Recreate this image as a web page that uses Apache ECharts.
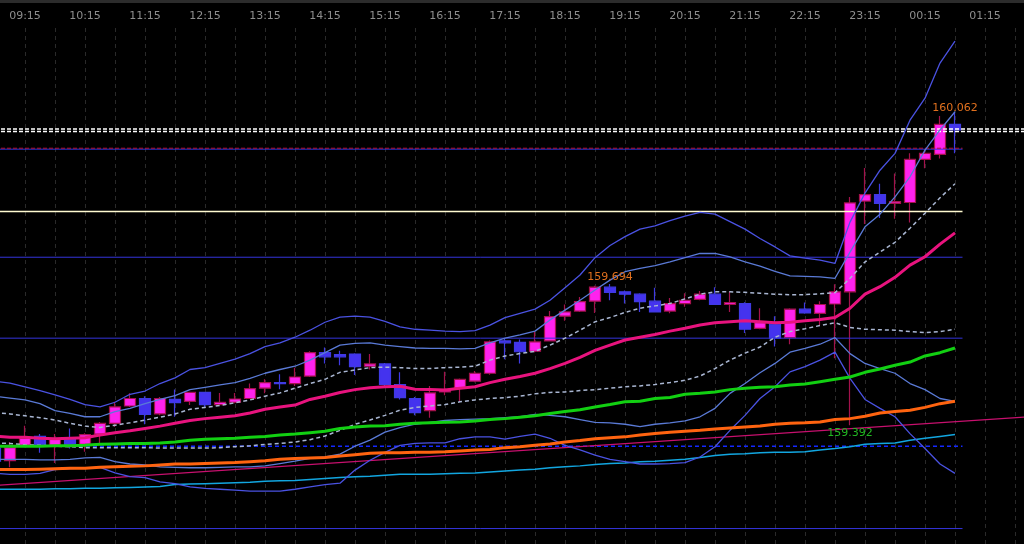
<!DOCTYPE html>
<html>
<head>
<meta charset="utf-8">
<script src="https://cdn.jsdelivr.net/npm/echarts@6/dist/echarts.min.js"></script>
<style>
  html, body { margin: 0; padding: 0; background: #000; }
  #main { width: 1024px; height: 544px; }
</style>
</head>
<body>
<div id="main"></div>
<script>
// 15 minute slots, 08:45 -> 02:00
var times = [
  '08:45',
  '09:00','09:15','09:30','09:45','10:00','10:15','10:30','10:45',
  '11:00','11:15','11:30','11:45','12:00','12:15','12:30','12:45',
  '13:00','13:15','13:30','13:45','14:00','14:15','14:30','14:45',
  '15:00','15:15','15:30','15:45','16:00','16:15','16:30','16:45',
  '17:00','17:15','17:30','17:45','18:00','18:15','18:30','18:45',
  '19:00','19:15','19:30','19:45','20:00','20:15','20:30','20:45',
  '21:00','21:15','21:30','21:45','22:00','22:15','22:30','22:45',
  '23:00','23:15','23:30','23:45','00:00','00:15','00:30','00:45',
  '01:00','01:15','01:30','01:45','02:00'
];

// open, close, low, high
var candles = [
  [159.343,159.315,159.311,159.347],[159.316,159.344,159.302,159.356],[159.349,159.364,159.345,159.391],
  [159.368,159.349,159.333,159.373],[159.349,159.362,159.311,159.373],[159.362,159.349,159.342,159.385],
  [159.351,159.372,159.335,159.375],[159.373,159.396,159.354,159.399],[159.396,159.431,159.388,159.442],
  [159.433,159.449,159.431,159.460],[159.449,159.415,159.394,159.454],[159.416,159.449,159.413,159.452],
  [159.447,159.440,159.410,159.468],[159.443,159.462,159.435,159.463],[159.462,159.436,159.430,159.463],
  [159.436,159.441,159.435,159.461],[159.441,159.448,159.439,159.461],[159.449,159.470,159.448,159.481],
  [159.471,159.483,159.460,159.490],[159.483,159.481,159.469,159.501],[159.481,159.495,159.476,159.515],
  [159.497,159.547,159.495,159.550],[159.547,159.538,159.524,159.558],[159.543,159.538,159.520,159.551],
  [159.544,159.517,159.499,159.546],[159.518,159.523,159.511,159.544],[159.523,159.479,159.476,159.525],
  [159.479,159.451,159.447,159.505],[159.449,159.419,159.413,159.452],[159.423,159.461,159.408,159.476],
  [159.463,159.468,159.456,159.506],[159.471,159.490,159.442,159.492],[159.486,159.503,159.484,159.508],
  [159.503,159.570,159.500,159.573],[159.572,159.568,159.533,159.578],[159.569,159.549,159.524,159.575],
  [159.550,159.570,159.548,159.592],[159.572,159.624,159.571,159.636],[159.625,159.634,159.615,159.650],
  [159.636,159.656,159.634,159.666],[159.657,159.687,159.632,159.690],[159.687,159.676,159.659,159.694],
  [159.677,159.672,159.652,159.680],[159.672,159.656,159.634,159.674],[159.657,159.634,159.633,159.686],
  [159.636,159.652,159.631,159.664],[159.652,159.659,159.645,159.674],[159.661,159.672,159.659,159.679],
  [159.672,159.650,159.649,159.687],[159.650,159.654,159.634,159.677],[159.652,159.597,159.589,159.655],
  [159.599,159.611,159.597,159.642],[159.608,159.578,159.560,159.625],[159.579,159.640,159.565,159.642],
  [159.640,159.632,159.630,159.654],[159.631,159.650,159.606,159.657],[159.651,159.677,159.535,159.693],
  [159.677,159.867,159.392,159.880],[159.871,159.885,159.822,159.942],[159.885,159.866,159.835,159.908],
  [159.866,159.870,159.833,159.930],[159.868,159.960,159.825,159.973],[159.960,159.973,159.941,159.982],
  [159.971,160.035,159.962,160.053],[160.035,160.023,159.973,160.062]
];

// moving averages
var maPink = [
  159.369,159.366,159.366,159.364,159.363,159.364,159.365,159.371,159.376,159.380,
  159.385,159.390,159.396,159.402,159.406,159.409,159.412,159.418,159.426,159.431,
  159.435,159.447,159.454,159.462,159.468,159.472,159.474,159.475,159.469,159.468,
  159.467,159.471,159.474,159.483,159.490,159.496,159.503,159.513,159.524,159.537,
  159.552,159.563,159.574,159.580,159.586,159.593,159.599,159.606,159.611,159.613,
  159.615,159.613,159.611,159.612,159.615,159.618,159.622,159.642,159.672,159.688,
  159.708,159.734,159.752,159.779,159.803
];
var maGreen = [
  159.347,159.347,159.347,159.347,159.348,159.348,159.349,159.351,159.352,159.353,
  159.353,159.354,159.356,159.360,159.362,159.363,159.364,159.366,159.368,159.371,
  159.373,159.376,159.379,159.385,159.388,159.390,159.391,159.394,159.396,159.397,
  159.398,159.399,159.401,159.404,159.406,159.409,159.412,159.417,159.421,159.425,
  159.431,159.436,159.442,159.443,159.449,159.451,159.458,159.460,159.463,159.468,
  159.471,159.473,159.474,159.478,159.480,159.485,159.490,159.495,159.505,159.512,
  159.520,159.527,159.540,159.547,159.557
];
var maOrange = [
  159.297,159.297,159.297,159.298,159.299,159.300,159.300,159.302,159.303,159.304,
  159.305,159.307,159.309,159.309,159.310,159.311,159.312,159.314,159.316,159.319,
  159.321,159.322,159.323,159.326,159.329,159.332,159.333,159.333,159.334,159.334,
  159.335,159.337,159.339,159.340,159.344,159.346,159.349,159.352,159.356,159.359,
  159.363,159.365,159.367,159.371,159.374,159.377,159.379,159.381,159.384,159.386,
  159.388,159.390,159.394,159.396,159.397,159.399,159.404,159.406,159.411,159.418,
  159.421,159.424,159.430,159.438,159.443
];
var maCyan = [
  159.255,159.255,159.255,159.255,159.256,159.256,159.257,159.257,159.258,159.259,
  159.260,159.261,159.265,159.266,159.267,159.268,159.269,159.270,159.272,159.273,
  159.274,159.276,159.278,159.280,159.282,159.283,159.285,159.287,159.287,159.287,
  159.288,159.289,159.290,159.292,159.294,159.296,159.298,159.301,159.303,159.305,
  159.308,159.310,159.311,159.314,159.315,159.317,159.319,159.323,159.327,159.330,
  159.331,159.333,159.334,159.334,159.335,159.339,159.342,159.346,159.351,159.353,
  159.354,159.360,159.364,159.368,159.372
];

// bands: inner (dark blue) and outer (light blue), two dashed middles
var upperA = [
  159.486,159.482,159.474,159.466,159.457,159.447,159.436,159.431,159.441,159.458,
  159.465,159.481,159.493,159.511,159.515,159.524,159.533,159.545,159.560,159.568,
  159.580,159.595,159.612,159.623,159.625,159.623,159.614,159.602,159.597,159.595,
  159.593,159.592,159.594,159.606,159.622,159.631,159.640,159.659,159.686,159.713,
  159.750,159.776,159.795,159.811,159.818,159.829,159.839,159.847,159.843,159.827,
  159.811,159.791,159.773,159.754,159.749,159.745,159.738,159.826,159.888,159.937,
  159.973,160.044,160.091,160.166,160.213
];
var lowerA = [
  159.289,159.287,159.287,159.289,159.297,159.299,159.300,159.302,159.290,159.282,
  159.280,159.271,159.267,159.260,159.257,159.255,159.253,159.251,159.251,159.251,
  159.255,159.260,159.265,159.268,159.296,159.317,159.334,159.349,159.353,159.354,
  159.354,159.363,159.367,159.367,159.362,159.368,159.373,159.364,159.349,159.339,
  159.328,159.319,159.314,159.309,159.309,159.310,159.312,159.324,159.346,159.381,
  159.413,159.449,159.474,159.506,159.517,159.531,159.548,159.492,159.447,159.428,
  159.410,159.374,159.342,159.309,159.289
];
var upperB = [
  159.454,159.450,159.446,159.438,159.423,159.417,159.410,159.410,159.421,159.428,
  159.438,159.447,159.455,159.468,159.473,159.478,159.483,159.492,159.503,159.511,
  159.518,159.531,159.547,159.563,159.567,159.568,159.563,159.560,159.557,159.556,
  159.556,159.555,159.556,159.568,159.578,159.585,159.593,159.617,159.638,159.659,
  159.681,159.702,159.720,159.727,159.733,159.741,159.750,159.759,159.759,159.752,
  159.741,159.732,159.721,159.711,159.710,159.709,159.706,159.762,159.816,159.843,
  159.880,159.923,159.980,160.023,160.062
];
var lowerB = [
  159.319,159.319,159.319,159.318,159.318,159.319,159.322,159.323,159.314,159.309,
  159.307,159.303,159.302,159.301,159.301,159.302,159.303,159.303,159.305,159.310,
  159.315,159.321,159.324,159.330,159.347,159.360,159.377,159.387,159.394,159.398,
  159.402,159.404,159.405,159.406,159.408,159.410,159.415,159.413,159.410,159.404,
  159.398,159.397,159.394,159.389,159.394,159.397,159.401,159.410,159.428,159.460,
  159.481,159.504,159.524,159.548,159.556,159.565,159.579,159.545,159.524,159.513,
  159.503,159.481,159.468,159.449,159.443
];
var midUpper = [
  159.419,159.416,159.412,159.408,159.403,159.396,159.390,159.387,159.392,159.397,
  159.403,159.409,159.416,159.426,159.430,159.434,159.440,159.446,159.454,159.461,
  159.471,159.481,159.490,159.505,159.510,159.515,159.516,159.515,159.513,159.513,
  159.515,159.516,159.518,159.531,159.540,159.545,159.550,159.563,159.578,159.595,
  159.613,159.622,159.633,159.642,159.647,159.652,159.662,159.672,159.677,159.677,
  159.676,159.674,159.672,159.671,159.671,159.673,159.675,159.706,159.741,159.762,
  159.783,159.813,159.845,159.878,159.908
];
var midLower = [
  159.354,159.353,159.350,159.349,159.347,159.346,159.344,159.344,159.344,159.344,
  159.344,159.343,159.343,159.343,159.343,159.344,159.346,159.348,159.351,159.353,
  159.356,159.361,159.369,159.381,159.394,159.403,159.413,159.424,159.430,159.433,
  159.436,159.442,159.446,159.449,159.451,159.454,159.459,159.462,159.463,159.466,
  159.468,159.471,159.474,159.476,159.479,159.483,159.488,159.497,159.513,159.531,
  159.546,159.559,159.580,159.592,159.598,159.605,159.611,159.601,159.597,159.596,
  159.595,159.592,159.590,159.592,159.597
];

// horizontal levels
var whiteLevels = [160.025, 160.020];
var blueLevels = [159.982, 159.751, 159.578, 159.171];
var redLevel = 159.984;
var paleLevel = 159.849;
var dashedBlueLevel = 159.347;
// trend line end points (slot, price)
var trendLine = [[0, 159.263], [69, 159.410]];

// price tags
var tagHigh = { time: '00:45', price: 160.062 };
var tagMid = { time: '19:00', price: 159.694 };
var tagLow = { time: '23:00', price: 159.392 };

var levelEnd = 64.5;
var lastSlot = times.length - 1;

var chart = echarts.init(document.getElementById('main'));

function curve(data, color, width, dash) {
  return {
    type: 'line', data: data, symbol: 'none', silent: true,
    lineStyle: { color: color, width: width, type: dash || 'solid' }
  };
}

function level(price, x1, color, width, dash) {
  return {
    type: 'line', xAxisIndex: 1, symbol: 'none', silent: true,
    data: [[0, price], [x1, price]],
    lineStyle: { color: color, width: width, type: dash || 'solid' }
  };
}

var series = [{
  type: 'candlestick',
  data: candles,
  barWidth: 12,
  itemStyle: {
    color: '#ff22ee',
    color0: '#4433ee',
    borderColor: '#a3124c',
    borderColor0: '#3f3ae2',
    borderWidth: 1.2
  },
  markPoint: {
    symbol: 'circle',
    symbolSize: 0,
    silent: true,
    label: { fontFamily: 'DejaVu Sans', fontSize: 11 },
    data: [
      { coord: [tagHigh.time, tagHigh.price], value: tagHigh.price.toFixed(3),
        label: { position: 'top', distance: -2, color: '#e0701e' } },
      { coord: [tagMid.time, tagMid.price], value: tagMid.price.toFixed(3),
        label: { position: 'top', distance: 1, color: '#e0701e' } },
      { coord: [tagLow.time, tagLow.price], value: tagLow.price.toFixed(3),
        label: { position: 'bottom', distance: 2, color: '#22b822' } }
    ]
  }
}];

blueLevels.forEach(function (p) { series.push(level(p, levelEnd, '#3434dc', 1)); });
series.push(level(redLevel, levelEnd, '#b0123c', 1, [4, 2]));
series.push(level(paleLevel, levelEnd, '#fffad0', 1.5));
series.push(level(dashedBlueLevel, levelEnd, '#1428ff', 1.5, [4, 3]));
whiteLevels.forEach(function (p) { series.push(level(p, lastSlot, '#ffffff', 1.5, [4, 2])); });
series.push({
  type: 'line', xAxisIndex: 1, symbol: 'none', silent: true, data: trendLine,
  lineStyle: { color: '#c8106e', width: 1.3 }
});

series.push(curve(maCyan, '#12a6e0', 1.5));
series.push(curve(lowerB, '#5a7ad6', 1.3));
series.push(curve(upperB, '#5a7ad6', 1.3));
series.push(curve(lowerA, '#4a52e2', 1.3));
series.push(curve(upperA, '#4a52e2', 1.3));
series.push(curve(midLower, '#a9b6d2', 1.5, [4, 3]));
series.push(curve(midUpper, '#a9b6d2', 1.5, [4, 3]));
series.push(curve(maOrange, '#ff6410', 3));
series.push(curve(maGreen, '#12d012', 3));
series.push(curve(maPink, '#e8137e', 3));

var option = {
  backgroundColor: '#000000',
  animation: false,
  graphic: [{
    type: 'rect', left: 0, top: 0,
    shape: { width: 1024, height: 3 },
    style: { fill: '#2c2c2c' }
  }],
  grid: { left: -5, right: -6, top: 28, bottom: 0, outerBoundsMode: 'none', containLabel: false },
  xAxis: [{
    type: 'category',
    data: times,
    position: 'top',
    boundaryGap: false,
    axisLine: { show: false },
    axisTick: { show: false },
    axisLabel: {
      interval: function (i) { return i % 4 === 2; },
      color: '#8e8e8e',
      fontFamily: 'DejaVu Sans',
      fontSize: 11,
      margin: 6
    },
    splitLine: {
      show: true,
      interval: function (i) { return i % 2 === 0; },
      lineStyle: { color: '#2a2a2a', width: 1, type: [4, 4] }
    }
  }, {
    type: 'value',
    min: 0,
    max: lastSlot,
    show: false
  }],
  yAxis: {
    type: 'value',
    min: 159.138,
    max: 160.241,
    show: false
  },
  series: series
};

chart.setOption(option);
</script>
</body>
</html>
